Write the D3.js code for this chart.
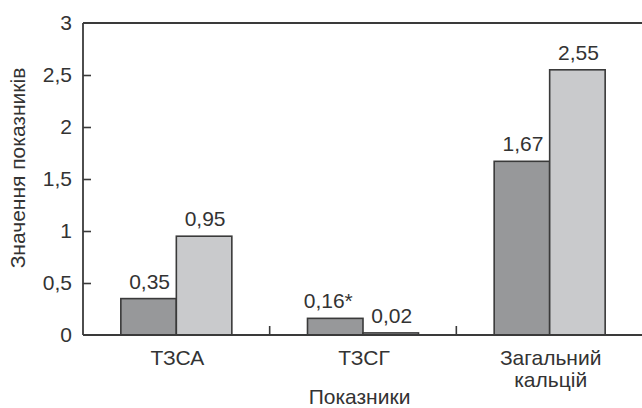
<!DOCTYPE html>
<html><head><meta charset="utf-8">
<script src="https://cdn.jsdelivr.net/npm/d3@7/dist/d3.min.js"></script>
<style>
html,body{margin:0;padding:0;background:#fff;}
svg text{font-family:"Liberation Sans",Arial,sans-serif;fill:#333;}
</style></head>
<body><svg id="c" width="642" height="408"></svg>
<script>
const categories = [["ТЗСА"], ["ТЗСГ"], ["Загальний", "кальцій"]];
const series1 = [0.35, 0.16, 1.67];
const series2 = [0.95, 0.02, 2.55];
const labels1 = ["0,35", "0,16*", "1,67"];
const labels2 = ["0,95", "0,02", "2,55"];
const yTicks = [0, 0.5, 1, 1.5, 2, 2.5, 3];
const yTickLabels = ["0", "0,5", "1", "1,5", "2", "2,5", "3"];
const yTitle = "Значення показників";
const xTitle = "Показники";

const svg = d3.select("#c");
const mLeft = 83, mRight = 642, mTop = 23, mBottom = 335;
const fs = 21;
const y = d3.scaleLinear().domain([0, 3]).range([mBottom, mTop]);
const x = d3.scaleBand().domain(d3.range(categories.length)).range([mLeft, mRight + 1]);
const inner = d3.scaleBand().domain([0, 1]).range([0, 111]);
const col = "#3a3a3a";

// bars
const fills = ["#97989a", "#c9cacc"];
[series1, series2].forEach((s, si) => {
  svg.append("g").selectAll("rect").data(s).join("rect")
    .attr("x", (d, i) => x(i) + (x.bandwidth() - 111) / 2 + inner(si))
    .attr("width", inner.bandwidth())
    .attr("y", d => y(d))
    .attr("height", d => y(0) - y(d))
    .attr("fill", fills[si])
    .attr("stroke", col)
    .attr("stroke-width", 1.6);
});
// value labels
[[series1, labels1], [series2, labels2]].forEach(([s, lab], si) => {
  svg.append("g").selectAll("text").data(s).join("text")
    .attr("x", (d, i) => x(i) + (x.bandwidth() - 111) / 2 + inner(si) + inner.bandwidth() / 2 + (lab[i].endsWith("*") ? -7 : 1))
    .attr("y", d => y(d) - 10)
    .attr("text-anchor", "middle")
    .attr("font-size", fs)
    .text((d, i) => lab[i]);
});

// y axis
const yAxis = d3.axisLeft(y).tickValues(yTicks).tickSize(-8).tickPadding(11)
  .tickFormat((d, i) => yTickLabels[i]);
const gy = svg.append("g").attr("transform", `translate(${mLeft},0)`).call(yAxis);
gy.select(".domain").remove();
gy.selectAll(".tick line").attr("stroke", col).attr("stroke-width", 1.6);
gy.selectAll(".tick text").attr("font-size", fs).attr("fill", "#333").attr("font-family", "Liberation Sans, Arial, sans-serif");
gy.selectAll(".tick").filter(d => d === 3 || d === 0).select("line").remove();

// frame lines: left axis, top line, bottom axis
svg.append("line").attr("x1", mLeft).attr("x2", mLeft).attr("y1", y(3)).attr("y2", y(0))
  .attr("stroke", col).attr("stroke-width", 1.8);
svg.append("line").attr("x1", mLeft).attr("x2", mRight).attr("y1", y(3)).attr("y2", y(3))
  .attr("stroke", col).attr("stroke-width", 1.8);
svg.append("line").attr("x1", mLeft).attr("x2", mRight).attr("y1", y(0)).attr("y2", y(0))
  .attr("stroke", col).attr("stroke-width", 1.8);

// category dividers (inner ticks)
svg.append("g").selectAll("line").data(d3.range(1, categories.length)).join("line")
  .attr("x1", i => x(i)).attr("x2", i => x(i))
  .attr("y1", y(0)).attr("y2", y(0) - 9)
  .attr("stroke", col).attr("stroke-width", 1.6);

// category labels
const cl = svg.append("g").selectAll("text").data(categories).join("text")
  .attr("text-anchor", "middle").attr("font-size", fs)
  .attr("transform", (d, i) => `translate(${x(i) + x.bandwidth() / 2 + 1},${y(0) + 30})`);
cl.selectAll("tspan").data(d => d).join("tspan")
  .attr("x", 0).attr("dy", (d, j) => j === 0 ? 0 : 22).text(d => d);

// titles
svg.append("text").attr("x", (mLeft + mRight) / 2 - 3).attr("y", 404)
  .attr("text-anchor", "middle").attr("font-size", fs).text(xTitle);
svg.append("text").attr("transform", `translate(25,${(mTop + mBottom) / 2 - 11}) rotate(-90)`)
  .attr("text-anchor", "middle").attr("font-size", fs).text(yTitle);
</script></body></html>
